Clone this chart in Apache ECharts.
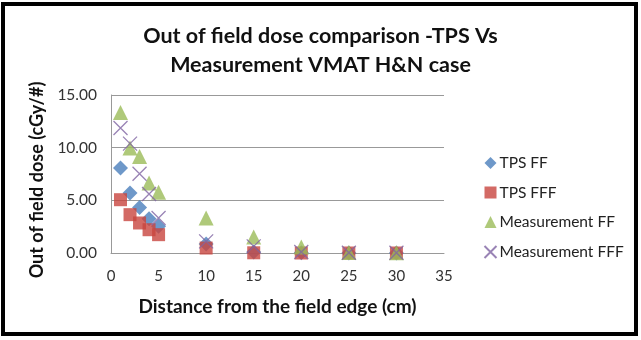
<!DOCTYPE html>
<html>
<head>
<meta charset="utf-8">
<script src="https://cdn.jsdelivr.net/npm/echarts@6/dist/echarts.min.js"></script>
<style>
  html, body { margin: 0; padding: 0; background: #fff; }
  #chart { width: 641px; height: 340px; }
</style>
</head>
<body>
<div id="chart"></div>
<script>
var distance = [1, 2, 3, 4, 5, 10, 15, 20, 25, 30];
var tpsFF = [8.07, 5.70, 4.33, 3.26, 2.53, 0.85, 0.10, 0.02, 0.00, 0.00];
var tpsFFF = [5.06, 3.64, 2.85, 2.21, 1.74, 0.47, 0.02, 0.00, 0.00, 0.00];
var measFF = [13.35, 9.97, 9.17, 6.65, 5.76, 3.32, 1.52, 0.57, 0.05, 0.03];
var measFFF = [11.87, 10.38, 7.53, 5.60, 3.32, 1.10, 0.63, 0.10, 0.02, 0.02];

var font = 'Lato';

function pairs(ys) {
    return distance.map(function (x, i) { return [x, ys[i]]; });
}

var chart = echarts.init(document.getElementById('chart'));

var option = {
    backgroundColor: '#fff',
    textStyle: { fontFamily: font },
    animation: false,
    title: {
        text: 'Out of field dose comparison -TPS Vs\nMeasurement VMAT H&N case',
        left: 'center',
        top: 17,
        textStyle: { fontFamily: font, fontSize: 21.5, fontWeight: 'bold', color: '#111', lineHeight: 29 }
    },
    graphic: [{
        type: 'rect',
        shape: { x: 3, y: 4, width: 633, height: 330 },
        style: { fill: 'none', stroke: '#000', lineWidth: 4 },
        silent: true
    }],
    grid: { left: 111, right: 197, top: 95, bottom: 87 },
    legend: {
        orient: 'vertical',
        left: 477,
        top: 150,
        itemGap: 13.5,
        itemWidth: 12,
        itemHeight: 12,
        textStyle: { fontFamily: font, fontSize: 15.5, color: '#222', padding: [0, 0, 0, -2] },
        data: ['TPS FF', 'TPS FFF', 'Measurement FF', 'Measurement FFF']
    },
    xAxis: {
        type: 'value',
        min: 0, max: 35, interval: 5,
        name: 'Distance from the field edge (cm)',
        nameLocation: 'middle',
        nameGap: 44,
        nameTextStyle: { fontFamily: font, fontSize: 19, fontWeight: 'bold', color: '#111' },
        axisLine: { lineStyle: { color: '#999' } },
        axisTick: { show: false },
        axisLabel: { fontSize: 15, color: '#333', margin: 16 },
        splitLine: { show: false }
    },
    yAxis: {
        type: 'value',
        min: 0, max: 15, interval: 5,
        name: 'Out of field dose (cGy/#)',
        nameLocation: 'middle',
        nameGap: 62,
        nameTextStyle: { fontFamily: font, fontSize: 18, fontWeight: 'bold', color: '#111', padding: [0, 12, 0, 0] },
        axisLine: { show: true, lineStyle: { color: '#999' } },
        axisTick: { show: false },
        axisLabel: { fontSize: 15.5, color: '#333', margin: 14, formatter: function (v) { return v.toFixed(2); } },
        splitLine: { lineStyle: { color: '#999' } }
    },
    series: [
        {
            name: 'TPS FF', type: 'scatter', symbol: 'diamond', symbolSize: 15,
            itemStyle: { color: '#4a7ebb' },
            data: pairs(tpsFF)
        },
        {
            name: 'TPS FFF', type: 'scatter', symbol: 'rect', symbolSize: 13,
            itemStyle: { color: '#c8453f' },
            data: pairs(tpsFFF)
        },
        {
            name: 'Measurement FF', type: 'scatter', symbol: 'triangle', symbolSize: 15,
            itemStyle: { color: '#9bbb59' },
            data: pairs(measFF)
        },
        {
            name: 'Measurement FFF', type: 'scatter',
            symbol: 'path://M0,0L20,20M20,0L0,20', symbolSize: 14,
            itemStyle: { color: 'none', borderColor: '#8064a2', borderWidth: 1.3 },
            data: pairs(measFFF)
        }
    ]
};

chart.setOption(option);
</script>
</body>
</html>
